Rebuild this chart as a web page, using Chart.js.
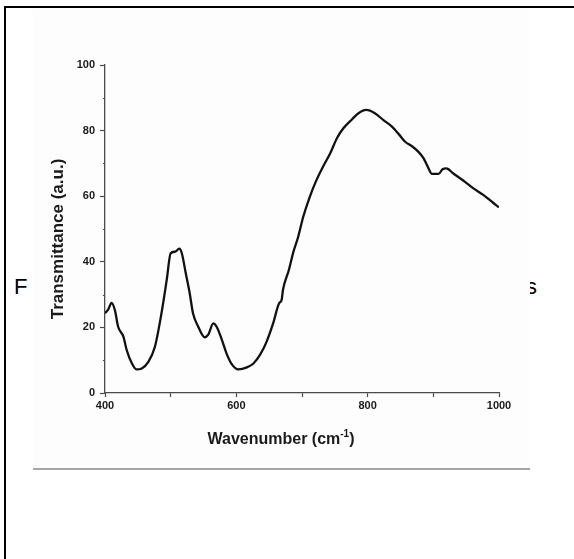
<!DOCTYPE html>
<html>
<head>
<meta charset="utf-8">
<script src="https://cdn.jsdelivr.net/npm/chart.js@4.4.0/dist/chart.umd.min.js"></script>
<style>
  html, body { margin: 0; padding: 0; background: #fff; }
  body { width: 574px; height: 559px; position: relative; overflow: hidden; font-family: "Liberation Sans", Arial, sans-serif; }
  #frameTop { position: absolute; left: 4px; top: 6px; width: 570px; height: 2px; background: #000; }
  #frameLeft { position: absolute; left: 4px; top: 6px; width: 2px; height: 553px; background: #000; }
  .caption { position: absolute; top: 274px; font-size: 22px; line-height: 26px; color: #000; }
  #wrap { position: absolute; left: 33px; top: 9px; width: 497px; height: 457px; background: #fdfdfd; }
  #rule { position: absolute; left: 33px; top: 468px; width: 497px; height: 2px; background: #a6a6a6; }
</style>
</head>
<body>
<div id="frameTop"></div>
<div id="frameLeft"></div>
<span class="caption" style="left:14px">F</span>
<span class="caption" style="left:526px">s</span>
<div id="wrap"><canvas id="ftir" width="497" height="457"></canvas></div>
<div id="rule"></div>
<script>
// wavenumber (cm-1) and transmittance (a.u.)
const wavenumber = [400, 405, 410, 415, 420, 428, 433, 441, 448, 456, 466, 476, 486, 494, 500, 507, 513, 517, 523, 529,
  534, 542, 552, 557, 565, 570, 578, 585, 593, 603, 616, 626, 636, 646, 656, 665, 669, 671, 680, 687,
  694, 702, 712, 722, 732, 743, 753, 763, 776, 786, 798, 811, 824, 837, 847, 857, 867, 877, 885, 891,
  898, 908, 914, 920, 930, 946, 961, 976, 991, 1000];
const transmittance = [24.3, 25.5, 27.5, 25.3, 20.2, 17.2, 13.1, 9.0, 7.2, 7.5, 9.5, 14.1, 24.3, 34.5, 42.6, 43.1, 44.0, 42.6, 36.5, 30.4,
  24.3, 20.2, 17.0, 17.7, 21.2, 20.2, 16.2, 12.1, 8.8, 7.2, 7.8, 9.0, 11.6, 15.6, 21.2, 27.3, 28.4, 31.4, 37.5, 43.1,
  47.5, 53.8, 59.9, 64.9, 69.0, 73.1, 77.6, 80.7, 83.4, 85.3, 86.3, 85.3, 83.2, 81.2, 79.0, 76.6, 75.3, 73.6, 71.6, 69.2,
  66.8, 66.8, 68.2, 68.5, 67.0, 64.7, 62.4, 60.4, 58.0, 56.6];
const xTicks = [400, 600, 800, 1000];
const yTicks = [0, 20, 40, 60, 80, 100];

const axisColor = '#4a4a4a';
const textColor = '#1a1a1a';
const fontFamily = '"Liberation Sans", Arial, sans-serif';

// short minor ticks on the y axis and the two axis titles
const extras = {
  id: 'extras',
  afterDraw(chart) {
    const { ctx, scales: { y }, chartArea } = chart;
    ctx.save();
    ctx.strokeStyle = axisColor;
    ctx.lineWidth = 1.2;
    for (let v = 10; v < 100; v += 20) {
      const py = Math.round(y.getPixelForValue(v)) + 0.5;
      ctx.beginPath();
      ctx.moveTo(chartArea.left - 2, py);
      ctx.lineTo(chartArea.left, py);
      ctx.stroke();
    }
    ctx.fillStyle = textColor;
    // x title with superscript
    const base = 435;
    ctx.font = 'bold 16px ' + fontFamily;
    const t1 = 'Wavenumber (cm';
    const w1 = ctx.measureText(t1).width;
    ctx.font = 'bold 10px ' + fontFamily;
    const w2 = ctx.measureText('-1').width;
    ctx.font = 'bold 16px ' + fontFamily;
    const w3 = ctx.measureText(')').width;
    let sx = 248 - (w1 + w2 + w3) / 2;
    ctx.textBaseline = 'alphabetic';
    ctx.textAlign = 'left';
    ctx.fillText(t1, sx, base);
    sx += w1;
    ctx.font = 'bold 10px ' + fontFamily;
    ctx.fillText('-1', sx, base - 7);
    sx += w2;
    ctx.font = 'bold 16px ' + fontFamily;
    ctx.fillText(')', sx, base);
    // y title
    ctx.translate(25, 230);
    ctx.rotate(-Math.PI / 2);
    ctx.font = 'bold 17px ' + fontFamily;
    ctx.textAlign = 'center';
    ctx.textBaseline = 'middle';
    ctx.fillText('Transmittance (a.u.)', 0, 0);
    ctx.restore();
  }
};

new Chart(document.getElementById('ftir'), {
  type: 'line',
  data: {
    datasets: [{
      data: wavenumber.map((w, i) => ({ x: w, y: transmittance[i] })),
      borderColor: '#111',
      borderWidth: 2.3,
      pointRadius: 0,
      fill: false,
      cubicInterpolationMode: 'monotone'
    }]
  },
  options: {
    responsive: false,
    animation: false,
    devicePixelRatio: 1,
    layout: { padding: { top: 56, right: 31, left: 0, bottom: 0 } },
    plugins: { legend: { display: false }, tooltip: { enabled: false } },
    scales: {
      x: {
        type: 'linear',
        min: 400,
        max: 1000,
        afterFit: (s) => { s.height = 73; },
        ticks: {
          stepSize: 100,
          autoSkip: false,
          maxRotation: 0,
          padding: 2,
          color: textColor,
          font: { family: fontFamily, size: 11, weight: 'bold' },
          callback: (v) => xTicks.includes(v) ? String(v) : ''
        },
        grid: { drawOnChartArea: false, tickLength: 4, tickColor: axisColor, tickWidth: 1.2 },
        border: { color: axisColor, width: 1.3 }
      },
      y: {
        min: 0,
        max: 100,
        afterFit: (s) => { s.width = 72; },
        ticks: {
          stepSize: 20,
          padding: 5,
          color: textColor,
          font: { family: fontFamily, size: 11, weight: 'bold' },
          callback: (v) => yTicks.includes(v) ? String(v) : ''
        },
        grid: { drawOnChartArea: false, tickLength: 5, tickColor: axisColor, tickWidth: 1.2 },
        border: { color: axisColor, width: 1.3 }
      }
    }
  },
  plugins: [extras]
});
</script>
</body>
</html>
